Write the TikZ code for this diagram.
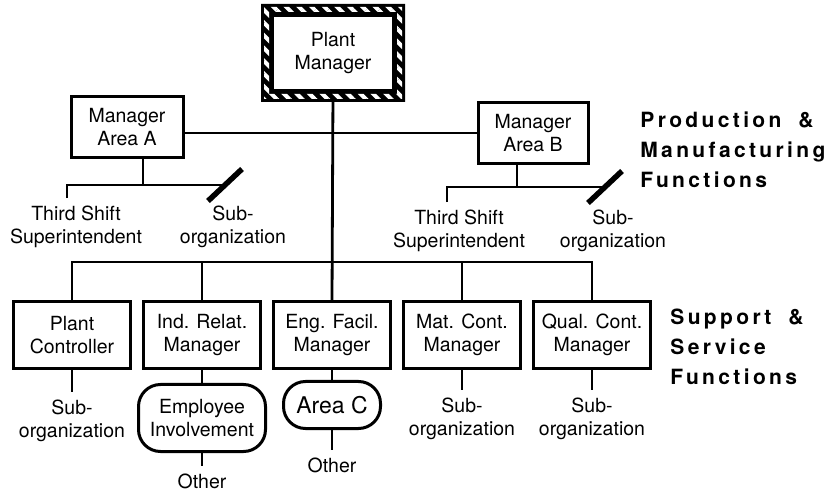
\documentclass[tikz,border=0pt]{standalone}
\usepackage{fontspec}
\setmainfont{TeX Gyre Heros}
\newfontfamily\widefont[LetterSpace=16]{TeX Gyre Heros}
\usepackage{tikz}
\usetikzlibrary{positioning,patterns.meta}

\begin{document}
\begin{tikzpicture}[
  x=1pt, y=-1pt,
  font=\fontsize{19.5}{23}\selectfont,
  line width=2.8pt,
  mgr/.style={rectangle, draw, line width=3pt, fill=white, align=center, minimum width=117pt, minimum height=67pt},
  oval/.style={rectangle, draw, line width=3pt, rounded corners=22pt, align=center},
  lbl/.style={align=center, inner sep=2pt, outer sep=6pt},
  func/.style={align=left, inner sep=0pt, font={\widefont\bfseries\fontsize{21}{30}\selectfont}},
  slash/.style={line width=5.5pt}
]
\useasboundingbox (0,0) rectangle (831,497);
\node[mgr, line width=2pt, minimum width=120pt, minimum height=74pt] (pm) at (333,53) {Plant\\Manager};
\node[mgr, minimum width=112pt, minimum height=61pt] (ma) at (127,127) {Manager\\Area A};
\node[mgr, minimum width=110pt, minimum height=61pt] (mb) at (533,133) {Manager\\Area B};
\node[mgr] (eng) at (332,335) {Eng. Facil.\\Manager};
\node[mgr, left=10pt of eng] (ind) {Ind. Relat.\\Manager};
\node[mgr, left=10pt of ind] (pc) {Plant\\Controller};
\node[mgr, right=10pt of eng] (mat) {Mat. Cont.\\Manager};
\node[mgr, right=10pt of mat] (qual) {Qual. Cont.\\Manager};
\node[oval, minimum width=127pt, minimum height=67pt, below=13pt of ind] (ei) {Employee\\Involvement};
\node[oval, minimum width=97pt, minimum height=47pt, below=10pt of eng, font=\fontsize{23}{27}\selectfont] (areac) {Area C};
\node[lbl, below=13pt of ei] (other1) {Other};
\node[lbl, below=20pt of areac] (other2) {Other};
\node[lbl, below=22pt of pc] (subpc) {Sub-\\organization};
\node[lbl, below=20pt of mat] (submat) {Sub-\\organization};
\node[lbl, below=20pt of qual] (subqual) {Sub-\\organization};
\node[lbl] (tsa) at (76,227) {Third Shift\\Superintendent};
\node[lbl] (suba) at (233,227) {Sub-\\organization};
\node[lbl] (tsb) at (459,231) {Third Shift\\Superintendent};
\node[lbl] (subb) at (613,231) {Sub-\\organization};
\node[func, anchor=west] (prod) at (639,150) {Production\hspace{17pt}\&\\Manufacturing\\Functions};
\node[func, anchor=west] (supp) at (669,347) {Support\hspace{17pt}\&\\Service\\Functions};
\coordinate (ja) at (143,185);
\coordinate (dropa) at (67,185);
\coordinate (sla) at (225,185);
\coordinate (jb) at (517,187);
\coordinate (dropb) at (447,187);
\coordinate (slb) at (605,187);
\coordinate (bar) at (332,262);
\draw (pm.south) -- (eng.north);
\draw (ma.east |- mb.west) -- (mb.west);
\draw (ma.south -| ja) -- (ja);
\draw (tsa.north -| dropa) -- (dropa) -- (sla);
\draw (mb.south -| jb) -- (jb);
\draw (tsb.north -| dropb) -- (dropb) -- (slb);
\draw[slash] ([shift={(-17,16)}]sla) -- ([shift={(17,-16)}]sla);
\draw[slash] ([shift={(-17,16)}]slb) -- ([shift={(17,-16)}]slb);
\draw (pc.north) -- (pc.north |- bar) -- (qual.north |- bar) -- (qual.north);
\draw (ind.north) -- (ind.north |- bar);
\draw (mat.north) -- (mat.north |- bar);
\draw (pc) -- (subpc);
\draw (ind) -- (ei);
\draw (ei) -- (other1);
\draw (eng) -- (areac);
\draw (areac) -- (other2);
\draw (mat) -- (submat);
\draw (qual) -- (subqual);
\fill[even odd rule] ([shift={(-11,-11)}]pm.north west) rectangle ([shift={(11,11)}]pm.south east) (pm.north west) rectangle (pm.south east);
\begin{scope}[even odd rule]
  \clip ([shift={(-8,-8)}]pm.north west) rectangle ([shift={(8,8)}]pm.south east) ([shift={(-3,-3)}]pm.north west) rectangle ([shift={(3,3)}]pm.south east);
  \fill[pattern={Lines[angle=-45,distance=9pt,line width=4pt]}, pattern color=white] ([shift={(-11,-11)}]pm.north west) rectangle ([shift={(11,11)}]pm.south east);
\end{scope}
\end{tikzpicture}
\end{document}
